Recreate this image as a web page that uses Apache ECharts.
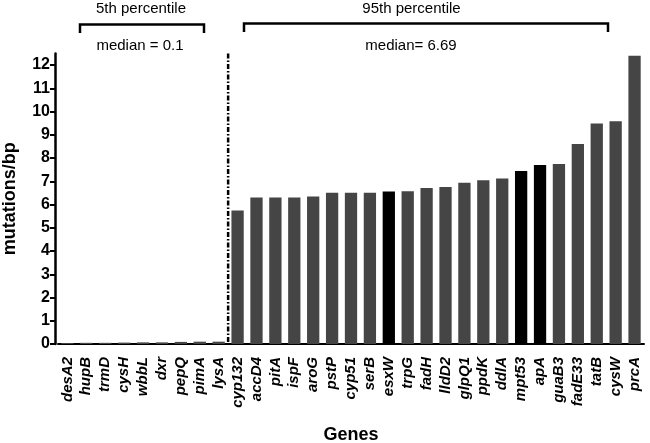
<!DOCTYPE html>
<html><head><meta charset="utf-8">
<script src="https://cdn.jsdelivr.net/npm/echarts@6/dist/echarts.min.js"></script>
<style>html,body{margin:0;padding:0;background:#fff}#c{width:650px;height:443px}</style>
</head><body><div id="c"></div>
<script>
const genes = ['desA2','hupB','trmD','cysH','wbbL','dxr','pepQ','pimA','lysA','cyp132','accD4','pitA','ispF','aroG','pstP','cyp51','serB','esxW','trpG','fadH','lldD2','glpQ1','ppdK','ddlA','mpt53','apA','guaB3','fadE33','tatB','cysW','prcA'];
const mutationsPerBp = [0.04,0.05,0.05,0.06,0.07,0.07,0.09,0.1,0.1,5.74,6.3,6.3,6.3,6.34,6.51,6.51,6.51,6.56,6.57,6.71,6.75,6.94,7.04,7.12,7.44,7.7,7.74,8.6,9.48,9.58,12.4];
const highlighted = ['esxW','mpt53','apA'];
const yTicks = [0,1,2,3,4,5,6,7,8,9,10,11,12];
const FONT = '"Liberation Sans", Arial, sans-serif';

const chart = echarts.init(document.getElementById('c'));
chart.setOption({
  animation: false,
  grid: {left: 58, right: 6, top: 53.4, bottom: 99, containLabel: false, outerBoundsMode: 'none'},
  xAxis: {
    type: 'category', data: genes,
    axisLine: {lineStyle: {color: '#000', width: 2}},
    axisTick: {alignWithLabel: true, length: 5, lineStyle: {color: '#000', width: 2}},
    axisLabel: {rotate: 90, interval: 0, margin: 13, color: '#000', fontFamily: FONT, fontSize: 15, fontWeight: 'bold', fontStyle: 'italic'},
    name: 'Genes', nameLocation: 'middle', nameGap: 82,
    nameTextStyle: {color: '#000', fontFamily: FONT, fontSize: 18, fontWeight: 'bold'}
  },
  yAxis: {
    type: 'value', min: 0, max: 12.5, interval: 1, offset: 3,
    splitLine: {show: false},
    axisLine: {show: true, lineStyle: {color: '#000', width: 2.5}},
    axisTick: {show: true, length: 5, customValues: yTicks, lineStyle: {color: '#000', width: 2}},
    axisLabel: {customValues: yTicks, margin: 5, color: '#000', fontFamily: FONT, fontSize: 16, fontWeight: 'bold'},
    name: 'mutations/bp', nameLocation: 'middle', nameGap: 36,
    nameTextStyle: {color: '#000', fontFamily: FONT, fontSize: 18, fontWeight: 'bold'}
  },
  series: [{
    type: 'bar', barWidth: '65%',
    data: mutationsPerBp.map((v, i) => ({value: v, itemStyle: {color: highlighted.includes(genes[i]) ? '#000' : '#454545'}}))
  }]
});

const xa = chart.convertToPixel({xAxisIndex: 0}, 'lysA');
const xb = chart.convertToPixel({xAxisIndex: 0}, 'cyp132');
const xs = (xa + xb) / 2;
const yTop = chart.convertToPixel({yAxisIndex: 0}, 12.5);
const yBot = chart.convertToPixel({yAxisIndex: 0}, 0);
const txt = (t, x, y) => ({type: 'text', x: x, y: y, style: {text: t, fill: '#000', font: '15px ' + FONT, align: 'center', verticalAlign: 'middle'}});
chart.setOption({
  graphic: [
    {type: 'line', shape: {x1: xs, y1: yTop, x2: xs, y2: yBot}, style: {stroke: '#000', lineWidth: 2.5, lineDash: [5, 2, 1.5, 2]}},
    {type: 'polyline', shape: {points: [[80,33],[80,24.5],[204,24.5],[204,33]]}, style: {stroke: '#000', lineWidth: 2.5, fill: null}},
    {type: 'polyline', shape: {points: [[244,32],[244,23.5],[608,23.5],[608,32]]}, style: {stroke: '#000', lineWidth: 2.5, fill: null}},
    txt('5th percentile', 141, 8.5),
    txt('median = 0.1', 140, 46),
    txt('95th percentile', 411.5, 8.5),
    txt('median= 6.69', 411, 46)
  ]
});
</script></body></html>
